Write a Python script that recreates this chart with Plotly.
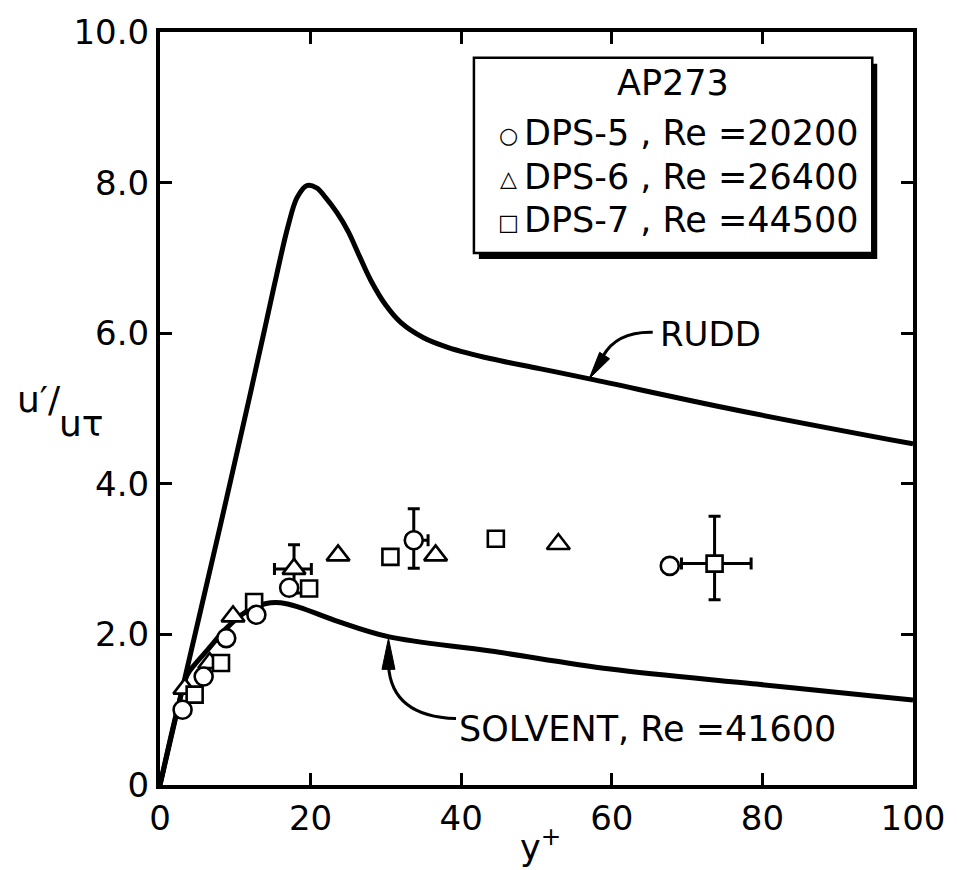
import plotly.graph_objects as go

# ---------------- data ----------------
rudd_x = [0, 4.0, 8.0, 12.0, 14.0, 15.5, 17.0, 18.2, 19.5, 20.8, 22.0, 23.5, 25.0, 26.5, 28.0, 30.0, 32.0, 35.0, 38.3, 44.0, 50.4, 57.2, 76.5, 100]
rudd_y = [0, 1.72, 3.44, 5.20, 6.10, 6.78, 7.42, 7.80, 7.96, 7.93, 7.80, 7.60, 7.35, 7.02, 6.70, 6.37, 6.14, 5.94, 5.81, 5.66, 5.53, 5.39, 4.98, 4.53]

solvent_x = [0, 2.5, 3.6, 4.7, 6.2, 8.8, 11.4, 14.1, 16.0, 18.5, 23.7, 30.3, 43.9, 59.8, 79.2, 95, 100]
solvent_y = [0, 1.08, 1.46, 1.61, 1.78, 2.08, 2.30, 2.41, 2.42, 2.36, 2.17, 1.97, 1.78, 1.54, 1.34, 1.18, 1.13]

# DPS-5, Re = 20200 (circles)
dps5_x = [3.0, 5.8, 8.8, 12.8, 17.15, 33.7, 67.7]
dps5_y = [1.00, 1.44, 1.95, 2.26, 2.62, 3.25, 2.91]
dps5_err_idx = 5
dps5_ey_plus, dps5_ey_minus = 0.42, 0.37
dps5_ex_plus, dps5_ex_minus = 1.9, 0.95

# DPS-6, Re = 26400 (triangles)
dps6_x = [3.3, 6.6, 9.7, 17.8, 23.65, 36.6, 52.9]
dps6_y = [1.28, 1.62, 2.24, 2.87, 3.05, 3.05, 3.20]
dps6_err_idx = 3
dps6_ey_plus, dps6_ey_minus = 0.32, 0.32
dps6_ex_plus, dps6_ex_minus = 2.3, 2.6

# DPS-7, Re = 44500 (squares)
dps7_x = [4.6, 8.1, 12.5, 19.8, 30.6, 44.6, 73.65]
dps7_y = [1.20, 1.62, 2.43, 2.61, 3.03, 3.27, 2.94]
dps7_err_idx = 6
dps7_ey_plus, dps7_ey_minus = 0.63, 0.48
dps7_ex_plus, dps7_ex_minus = 4.85, 4.4

x_ticks = [0, 20, 40, 60, 80, 100]
x_tick_labels = ["0", "20", "40", "60", "80", "100"]
y_ticks = [0, 2, 4, 6, 8, 10]
y_tick_labels = ["0", "2.0", "4.0", "6.0", "8.0", "10.0"]

legend_title = "AP273"
series_labels = ["DPS-5 , Re =20200", "DPS-6 , Re =26400", "DPS-7 , Re =44500"]
series_glyphs = ["○", "△", "□"]
rudd_label = "RUDD"
solvent_label = "SOLVENT, Re =41600"

# ---------------- layout geometry ----------------
W, H = 957, 870
L, R, T, B = 160, 918, 25, 785
XMAX, YMAX = 100.0, 10.0
FONT = "DejaVu Sans"


def dx(px):
    return (px - L) / (R - L) * XMAX


def dy(py):
    return (B - py) / (B - T) * YMAX


def px_paper(px):
    return (px - L) / (R - L)


def py_paper(py):
    return (B - py) / (B - T)


fig = go.Figure()

curve_line = dict(color="black", width=5, shape="spline", smoothing=1.0)
fig.add_trace(go.Scatter(x=rudd_x, y=rudd_y, mode="lines", line=curve_line,
                         name="RUDD", showlegend=False, hoverinfo="skip"))
fig.add_trace(go.Scatter(x=solvent_x, y=solvent_y, mode="lines", line=curve_line,
                         name="SOLVENT", showlegend=False, hoverinfo="skip"))


def split(xs, ys, idx):
    mx = [v for i, v in enumerate(xs) if i != idx]
    my = [v for i, v in enumerate(ys) if i != idx]
    return mx, my, [xs[idx]], [ys[idx]]


def marker(symbol, size):
    return dict(symbol=symbol, size=size, color="white",
                line=dict(color="black", width=2.6))


def err(plus, minus):
    return dict(type="data", symmetric=False, array=[plus], arrayminus=[minus],
                color="black", thickness=3, width=6)


m5x, m5y, e5x, e5y = split(dps5_x, dps5_y, dps5_err_idx)
m6x, m6y, e6x, e6y = split(dps6_x, dps6_y, dps6_err_idx)
m7x, m7y, e7x, e7y = split(dps7_x, dps7_y, dps7_err_idx)

TRI, SQ, CIR = 20, 16, 18
# squares with error bars first (so the circle next to it covers the bar end)
fig.add_trace(go.Scatter(x=e7x, y=e7y, mode="markers", marker=marker("square", SQ),
                         error_y=err(dps7_ey_plus, dps7_ey_minus),
                         error_x=err(dps7_ex_plus, dps7_ex_minus), showlegend=False))
fig.add_trace(go.Scatter(x=e6x, y=e6y, mode="markers", marker=marker("triangle-up", TRI),
                         error_y=err(dps6_ey_plus, dps6_ey_minus),
                         error_x=err(dps6_ex_plus, dps6_ex_minus), showlegend=False))
fig.add_trace(go.Scatter(x=m6x, y=m6y, mode="markers", marker=marker("triangle-up", TRI),
                         name=series_labels[1], showlegend=False))
fig.add_trace(go.Scatter(x=m7x, y=m7y, mode="markers", marker=marker("square", SQ),
                         name=series_labels[2], showlegend=False))
fig.add_trace(go.Scatter(x=m5x, y=m5y, mode="markers", marker=marker("circle", CIR),
                         name=series_labels[0], showlegend=False))
fig.add_trace(go.Scatter(x=e5x, y=e5y, mode="markers", marker=marker("circle", CIR),
                         error_y=err(dps5_ey_plus, dps5_ey_minus),
                         error_x=err(dps5_ex_plus, dps5_ex_minus), showlegend=False))

shapes = []
annotations = []

# ---- legend box with drop shadow ----
bx0, by0, bx1, by1 = 476, 51, 877, 248
shapes.append(dict(type="rect", xref="x", yref="y",
                   x0=dx(bx0 + 5), x1=dx(bx1 + 5), y0=dy(by0 + 6), y1=dy(by1 + 6),
                   fillcolor="black", line=dict(width=0)))
shapes.append(dict(type="rect", xref="x", yref="y",
                   x0=dx(bx0), x1=dx(bx1), y0=dy(by0), y1=dy(by1),
                   fillcolor="white", line=dict(color="black", width=2.5)))

annotations.append(dict(text=legend_title, xref="x", yref="y", x=dx((bx0 + bx1) / 2), y=dy(76),
                        showarrow=False, xanchor="center", yanchor="middle",
                        font=dict(family=FONT, size=35, color="black")))
row_y = [127, 171, 215]
for g, lab, ry in zip(series_glyphs, series_labels, row_y):
    annotations.append(dict(text=g, xref="x", yref="y", x=dx(511), y=dy(ry + 2),
                            showarrow=False, xanchor="center", yanchor="middle",
                            font=dict(family=FONT, size=22, color="black")))
    annotations.append(dict(text=lab, xref="x", yref="y", x=dx(524), y=dy(ry),
                            showarrow=False, xanchor="left", yanchor="middle",
                            font=dict(family=FONT, size=35, color="black")))

# ---- RUDD label and curved arrow ----
annotations.append(dict(text=rudd_label, xref="x", yref="y", x=dx(661), y=dy(330),
                        showarrow=False, xanchor="left", yanchor="middle",
                        font=dict(family=FONT, size=34, color="black")))
rudd_path = "M %.3f,%.3f Q %.3f,%.3f %.3f,%.3f" % (dx(656), dy(328), dx(620), dy(327), dx(606), dy(352))
shapes.append(dict(type="path", xref="x", yref="y", path=rudd_path,
                   line=dict(color="black", width=3)))
rudd_tip = (dx(592), dy(375))
shapes.append(dict(type="path", xref="x", yref="y", xsizemode="pixel", ysizemode="pixel",
                   xanchor=rudd_tip[0], yanchor=rudd_tip[1],
                   path="M 0,0 L 10.5,26.5 L 20.5,20 Z",
                   fillcolor="black", line=dict(color="black", width=1)))

# ---- SOLVENT label and curved arrow ----
annotations.append(dict(text=solvent_label, xref="x", yref="y", x=dx(459), y=dy(728),
                        showarrow=False, xanchor="left", yanchor="middle",
                        font=dict(family=FONT, size=35, color="black")))
solv_path = "M %.3f,%.3f Q %.3f,%.3f %.3f,%.3f" % (dx(458), dy(718), dx(393), dy(716), dx(390), dy(664))
shapes.append(dict(type="path", xref="x", yref="y", path=solv_path,
                   line=dict(color="black", width=3)))
solv_tip = (dx(390), dy(637))
shapes.append(dict(type="path", xref="x", yref="y", xsizemode="pixel", ysizemode="pixel",
                   xanchor=solv_tip[0], yanchor=solv_tip[1],
                   path="M 0,0 L -6.5,-31 L 6.5,-31 Z",
                   fillcolor="black", line=dict(color="black", width=1)))

# ---- axis titles ----
annotations.append(dict(text="u′/", xref="paper", yref="paper", x=px_paper(14), y=py_paper(396),
                        showarrow=False, xanchor="left", yanchor="middle",
                        font=dict(family=FONT, size=36, color="black")))
annotations.append(dict(text="uτ", xref="paper", yref="paper", x=px_paper(56), y=py_paper(420),
                        showarrow=False, xanchor="left", yanchor="middle",
                        font=dict(family=FONT, size=36, color="black")))
annotations.append(dict(text="y<sup>+</sup>", xref="paper", yref="paper", x=px_paper(543), y=py_paper(846),
                        showarrow=False, xanchor="center", yanchor="middle",
                        font=dict(family=FONT, size=35, color="black")))

axis_common = dict(showline=True, linewidth=4, linecolor="black", mirror="ticks",
                   ticks="inside", ticklen=12, tickwidth=3, tickcolor="black",
                   showgrid=False, zeroline=False,
                   tickfont=dict(family=FONT, size=34, color="black"))

fig.update_layout(
    width=W, height=H, autosize=False,
    margin=dict(l=L, r=W - R, t=T, b=H - B, pad=0),
    paper_bgcolor="white", plot_bgcolor="white",
    showlegend=False,
    xaxis=dict(range=[0, XMAX], tickvals=x_ticks, ticktext=x_tick_labels, **axis_common),
    yaxis=dict(range=[0, YMAX], tickvals=y_ticks, ticktext=y_tick_labels, **axis_common),
    shapes=shapes,
    annotations=annotations,
)

fig.write_html("out.html")
